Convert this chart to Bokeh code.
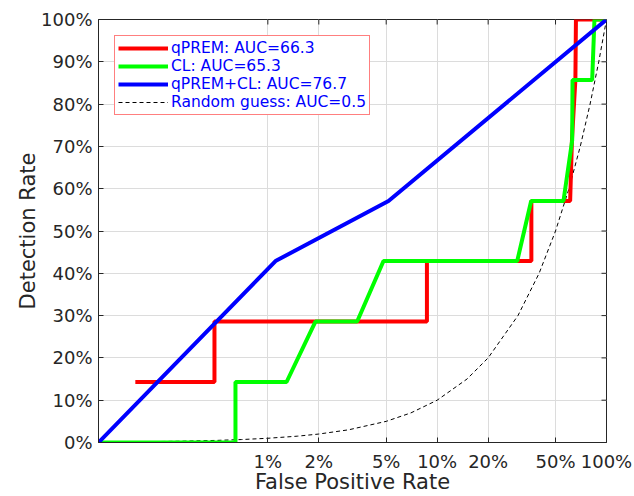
import math
from bokeh.plotting import figure
from bokeh.models import FixedTicker, NumeralTickFormatter, Legend, LegendItem
from bokeh.embed import file_html
from bokeh.resources import INLINE

# ---- data ----
x_ticks = [0.01, 0.02, 0.05, 0.1, 0.2, 0.5, 1.0]
y_ticks = [0.0, 0.1, 0.2, 0.3, 0.4, 0.5, 0.6, 0.7, 0.8, 0.9, 1.0]

qprem_fpr = [0.00165, 0.00484, 0.00484, 0.087, 0.087, 0.36, 0.36, 0.61, 0.625, 0.655, 0.66, 1.0]
qprem_tpr = [0.143, 0.143, 0.286, 0.286, 0.429, 0.429, 0.571, 0.571, 0.714, 0.857, 1.0, 1.0]

cl_fpr = [0.001, 0.00644, 0.00644, 0.0129, 0.0191, 0.0337, 0.0482, 0.297, 0.359, 0.557, 0.627, 0.63, 0.823, 0.849, 1.0]
cl_tpr = [0.0, 0.0, 0.143, 0.143, 0.286, 0.286, 0.429, 0.429, 0.571, 0.571, 0.714, 0.857, 0.857, 1.0, 1.0]

both_fpr = [0.001, 0.0111, 0.0516, 1.0]
both_tpr = [0.0, 0.429, 0.571, 1.0]

guess_fpr = [0.001, 0.0015, 0.002, 0.003, 0.005, 0.007, 0.01, 0.015, 0.02, 0.03, 0.05, 0.07,
             0.1, 0.15, 0.2, 0.3, 0.4, 0.5, 0.6, 0.7, 0.8, 0.9, 1.0]
guess_tpr = [0.001, 0.0015, 0.002, 0.003, 0.005, 0.007, 0.01, 0.015, 0.02, 0.03, 0.05, 0.07,
             0.1, 0.15, 0.2, 0.3, 0.4, 0.5, 0.6, 0.7, 0.8, 0.9, 1.0]

labels = ["qPREM: AUC=66.3", "CL: AUC=65.3", "qPREM+CL: AUC=76.7", "Random guess: AUC=0.5"]
x_title = "False Positive Rate"
y_title = "Detection Rate"

FONT = "DejaVu Sans"
DARK = "#262626"
GRID = "#dcdcdc"

p = figure(width=634, height=496, output_backend="svg", toolbar_location=None,
           x_axis_type="log", x_range=(0.001, 1.0), y_range=(0.0, 1.0),
           min_border_left=98, min_border_right=28, min_border_top=19, min_border_bottom=54)
p.background_fill_color = "white"
p.border_fill_color = "white"
p.outline_line_color = DARK
p.outline_line_width = 1

xa = p.xaxis[0]
xa.ticker = FixedTicker(ticks=x_ticks, minor_ticks=[])
xa.formatter = NumeralTickFormatter(format="0%")
ya = p.yaxis[0]
ya.ticker = FixedTicker(ticks=y_ticks, minor_ticks=[])
ya.formatter = NumeralTickFormatter(format="0%")

for ax in (xa, ya):
    ax.major_tick_in = 5
    ax.major_tick_out = 0
    ax.minor_tick_line_color = None
    ax.axis_line_color = DARK
    ax.major_tick_line_color = DARK
    ax.major_label_text_font = FONT
    ax.major_label_text_font_size = "18px"
    ax.major_label_text_color = DARK
    ax.axis_label_text_font = FONT
    ax.axis_label_text_font_size = "21px"
    ax.axis_label_text_font_style = "normal"
    ax.axis_label_text_color = DARK

xa.axis_label = x_title
xa.major_label_standoff = 8
xa.axis_label_standoff = -5
ya.axis_label = y_title
ya.major_label_standoff = 6
ya.axis_label_standoff = -2

# mirrored inward tick marks on the top and right edges of the box
p.ray(x=x_ticks[:-1], y=[1.0] * (len(x_ticks) - 1), length=5, length_units="screen",
      angle=-math.pi / 2, line_color=DARK, line_width=1)
p.ray(x=[1.0] * len(y_ticks), y=y_ticks, length=5, length_units="screen",
      angle=math.pi, line_color=DARK, line_width=1)

p.xgrid.ticker = FixedTicker(ticks=x_ticks[:-1], minor_ticks=[])
p.ygrid.ticker = FixedTicker(ticks=y_ticks[1:-1], minor_ticks=[])
p.xgrid.grid_line_color = GRID
p.ygrid.grid_line_color = GRID

r_guess = p.line(guess_fpr, guess_tpr, line_color="black", line_width=1, line_dash="4 3")
r_red = p.line(qprem_fpr, qprem_tpr, line_color="#ff0000", line_width=4)
r_green = p.line(cl_fpr, cl_tpr, line_color="#00ff00", line_width=4)
r_blue = p.line(both_fpr, both_tpr, line_color="#0000ff", line_width=4)

legend = Legend(items=[
    LegendItem(label=labels[0], renderers=[r_red]),
    LegendItem(label=labels[1], renderers=[r_green]),
    LegendItem(label=labels[2], renderers=[r_blue]),
    LegendItem(label=labels[3], renderers=[r_guess]),
], location="top_left")
legend.margin = 16
legend.padding = 3
legend.spacing = -1
legend.glyph_width = 50
legend.glyph_height = 16
legend.label_height = 16
legend.label_standoff = 3
legend.label_text_font = FONT
legend.label_text_font_size = "15.5px"
legend.label_text_color = "#0000ff"
legend.border_line_color = "#ff0000"
legend.border_line_width = 1
legend.background_fill_color = "white"
legend.background_fill_alpha = 1.0
p.add_layout(legend)

open("out.html", "w").write(file_html(p, INLINE))
